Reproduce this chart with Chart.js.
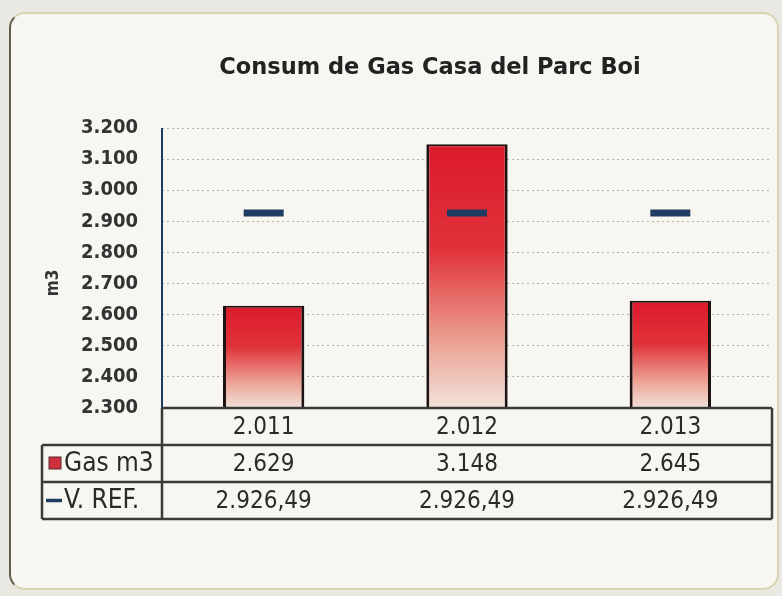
<!DOCTYPE html>
<html>
<head>
<meta charset="utf-8">
<script src="https://cdn.jsdelivr.net/npm/chart.js@4.4.1/dist/chart.umd.min.js"></script>
<style>
  html, body { margin: 0; padding: 0; background: #e9e8e3; width: 782px; height: 596px; overflow: hidden; }
  #panel { position: absolute; left: 9px; top: 12px; width: 766px; height: 574px;
           background: #f8f6f1; border: 2px solid #d8d4b4; border-left-color: #5f5e47;
           border-radius: 16px; }
  #c { position: absolute; left: 0; top: 0; }
</style>
</head>
<body>
<div id="panel"></div>
<canvas id="c" width="782" height="596"></canvas>
<script>
// ---- data ----
const chartTitle = 'Consum de Gas Casa del Parc Boi';
const yAxisTitle = 'm3';
const years = [2011, 2012, 2013];
const gasLabel = 'Gas m3';
const gasValues = [2629, 3148, 2645];
const refLabel = 'V. REF.';
const refValues = [2926.49, 2926.49, 2926.49];
const yMin = 2300, yMax = 3200, yStep = 100;

function fmt(v, dec) {
  const parts = Number(v).toFixed(dec).split('.');
  parts[0] = parts[0].replace(/\B(?=(\d{3})+(?!\d))/g, '.');
  return dec ? parts[0] + ',' + parts[1] : parts[0];
}
const catLabels = years.map(y => fmt(y, 0));

const TFONT = '"DejaVu Sans Condensed", "DejaVu Sans", sans-serif';
const NAVY = '#1f3d63';

function barGradient(ctx) {
  const chart = ctx.chart;
  const ca = chart.chartArea;
  if (!ca) return '#d42030';
  const top = chart.scales.y.getPixelForValue(ctx.raw);
  const g = chart.ctx.createLinearGradient(0, top, 0, ca.bottom);
  g.addColorStop(0, '#dc1a2c');
  g.addColorStop(0.4, '#e0323a');
  g.addColorStop(0.75, '#eca294');
  g.addColorStop(1, '#f2e2da');
  return g;
}

const tablePlugin = {
  id: 'tablePlugin',
  afterDraw(chart) {
    const c = chart.ctx, ca = chart.chartArea, xs = chart.scales.x;
    const L = 42, R = ca.right, AX = ca.left;
    const r0 = ca.bottom, rh = 37;
    const r1 = r0 + rh, r2 = r1 + rh, r3 = r2 + rh;
    c.save();
    // chart title
    c.font = 'bold 22.5px "DejaVu Sans", sans-serif';
    c.fillStyle = '#222';
    c.textAlign = 'center'; c.textBaseline = 'middle';
    c.fillText(chartTitle, 430, 68);
    // axis title
    c.save();
    c.translate(54, 283);
    c.rotate(-Math.PI / 2);
    c.font = 'bold 17px ' + TFONT;
    c.fillStyle = '#333';
    c.fillText(yAxisTitle, 0, 0);
    c.restore();
    // y axis line
    c.strokeStyle = NAVY; c.lineWidth = 2;
    c.beginPath(); c.moveTo(AX, ca.top); c.lineTo(AX, r0); c.stroke();
    // table lines
    c.strokeStyle = '#3a3a3a'; c.lineWidth = 2.5;
    c.beginPath();
    c.moveTo(AX, r0); c.lineTo(R, r0);
    c.moveTo(L, r1); c.lineTo(R, r1);
    c.moveTo(L, r2); c.lineTo(R, r2);
    c.moveTo(L, r3); c.lineTo(R, r3);
    c.moveTo(L, r1); c.lineTo(L, r3);
    c.moveTo(AX, r0); c.lineTo(AX, r3);
    c.moveTo(R, r0); c.lineTo(R, r3);
    c.stroke();
    // texts
    c.fillStyle = '#2a2a2a';
    c.font = '24px ' + TFONT;
    c.textAlign = 'center'; c.textBaseline = 'middle';
    catLabels.forEach((t, i) => {
      const x = xs.getPixelForValue(i);
      c.fillText(t, x, r0 + rh / 2 + 1);
      c.fillText(fmt(gasValues[i], 0), x, r1 + rh / 2 + 1);
      c.fillText(fmt(refValues[i], 2), x, r2 + rh / 2 + 1);
    });
    // legend cells
    c.fillStyle = '#cf3040';
    c.fillRect(49, r1 + 12, 12, 12);
    c.strokeStyle = '#5a2a30'; c.lineWidth = 1;
    c.strokeRect(49, r1 + 12, 12, 12);
    c.strokeStyle = NAVY; c.lineWidth = 3.5;
    c.beginPath(); c.moveTo(46, r2 + rh / 2); c.lineTo(62, r2 + rh / 2); c.stroke();
    c.fillStyle = '#2a2a2a';
    c.font = '26px ' + TFONT;
    c.textAlign = 'left';
    c.fillText(gasLabel, 64, r1 + rh / 2 + 1);
    c.fillText(refLabel, 64, r2 + rh / 2 + 1);
    c.restore();
  }
};

new Chart(document.getElementById('c'), {
  data: {
    labels: catLabels,
    datasets: [
      {
        type: 'bar', label: gasLabel, data: gasValues, order: 2,
        backgroundColor: barGradient, borderColor: '#1e1212',
        borderWidth: { left: 3, right: 3, top: 2, bottom: 0 },
        borderSkipped: false,
        categoryPercentage: 1, barPercentage: 0.4
      },
      {
        type: 'line', label: refLabel, data: refValues, order: 1,
        showLine: false, pointStyle: 'line', pointRadius: 20, pointHoverRadius: 20,
        pointBorderWidth: 7, pointHoverBorderWidth: 7,
        pointBorderColor: NAVY, borderColor: NAVY, backgroundColor: NAVY
      }
    ]
  },
  options: {
    responsive: false, animation: false, events: [],
    layout: { autoPadding: false, padding: { top: 128, left: 0, right: 10, bottom: 188 } },
    plugins: {
      legend: { display: false }, tooltip: { enabled: false },
      title: { display: false }
    },
    scales: {
      x: { display: false },
      y: {
        min: yMin, max: yMax,
        afterFit(s) { s.width = 162; },
        ticks: {
          stepSize: yStep, padding: 24, color: '#333',
          font: { family: TFONT, size: 20, weight: 'bold' },
          callback: v => fmt(v, 0)
        },
        grid: {
          drawTicks: false, color: (ctx) => ctx.tick && ctx.tick.value === yMin ? 'rgba(0,0,0,0)' : '#b3b0a8',
          lineWidth: 1
        },
        border: { display: false, dash: [2, 3] }
      }
    }
  },
  plugins: [tablePlugin]
});
</script>
</body>
</html>
